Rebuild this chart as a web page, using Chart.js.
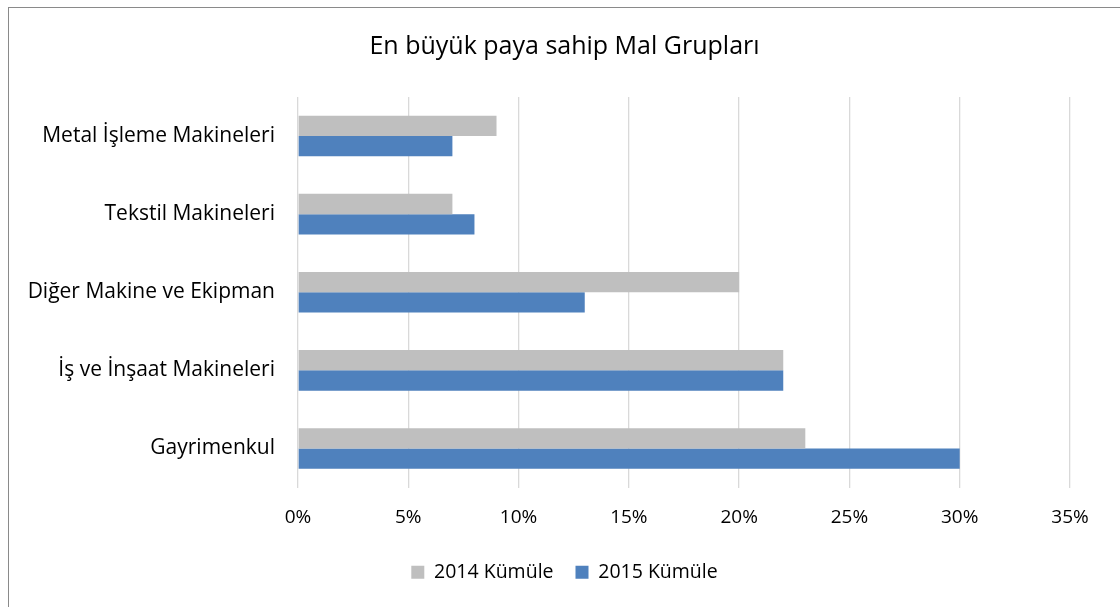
<!DOCTYPE html>
<html>
<head>
<meta charset="utf-8">
<script src="https://cdn.jsdelivr.net/npm/chart.js@4"></script>
<style>
    html, body { margin: 0; padding: 0; background: #fff; }
    #frame {
        position: absolute; left: 8px; top: 7px;
        width: 1112px; height: 600px;
        box-sizing: border-box;
        border-left: 1px solid #8a8a8a; border-top: 1px solid #8a8a8a;
    }
    #frame canvas { display: block; }
</style>
</head>
<body>
<div id="frame"><canvas id="statsChart" width="1111" height="599"></canvas></div>
<script>
// chart data (percent)
const categories = ['Metal İşleme Makineleri', 'Tekstil Makineleri', 'Diğer Makine ve Ekipman', 'İş ve İnşaat Makineleri', 'Gayrimenkul'];
const series2014 = [9, 7, 20, 22, 23];
const series2015 = [7, 8, 13, 22, 30];
const seriesLabels = ['2014 Kümüle', '2015 Kümüle'];
const chartTitle = 'En büyük paya sahip Mal Grupları';

const FONT = "'Open Sans', 'Noto Sans', sans-serif";

const ctx = document.getElementById('statsChart').getContext('2d');
new Chart(ctx, {
    type: 'bar',
    data: {
        labels: categories,
        datasets: [
            {
                label: seriesLabels[0],
                data: series2014,
                backgroundColor: '#bfbfbf',
                categoryPercentage: 0.52,
                barPercentage: 1.0
            },
            {
                label: seriesLabels[1],
                data: series2015,
                backgroundColor: '#4f81bd',
                categoryPercentage: 0.52,
                barPercentage: 1.0
            }
        ]
    },
    options: {
        indexAxis: 'y',
        responsive: false,
        animation: false,
        layout: { padding: { left: 0, right: 0, top: 0, bottom: 15 } },
        plugins: {
            title: {
                display: true,
                text: chartTitle,
                color: '#000',
                font: { family: FONT, size: 25, weight: 'normal' },
                padding: { top: 24, bottom: 35 }
            },
            legend: {
                display: true,
                position: 'bottom',
                labels: {
                    color: '#000',
                    font: { family: FONT, size: 19.5 },
                    boxWidth: 13,
                    boxHeight: 13,
                    padding: 22
                }
            },
            tooltip: { enabled: false }
        },
        scales: {
            x: {
                min: 0,
                max: 35,
                ticks: {
                    stepSize: 5,
                    color: '#000',
                    font: { family: FONT, size: 19 },
                    padding: 19,
                    callback: v => v + '%'
                },
                grid: { color: '#d9d9d9', lineWidth: 1.3, drawTicks: false },
                border: { display: false },
                afterFit: s => { s.height = 53; }
            },
            y: {
                ticks: {
                    color: '#000',
                    font: { family: FONT, size: 21 },
                    padding: 23
                },
                grid: { display: false, drawTicks: false },
                border: { display: false },
                afterFit: s => { s.width = 289; }
            },
            // empty right-hand spacer so the title stays centred on the whole box
            spacer: {
                type: 'linear',
                axis: 'y',
                position: 'right',
                display: true,
                ticks: { display: false },
                grid: { display: false, drawTicks: false },
                border: { display: false },
                afterFit: s => { s.width = 50; }
            }
        }
    }
});
</script>
</body>
</html>
